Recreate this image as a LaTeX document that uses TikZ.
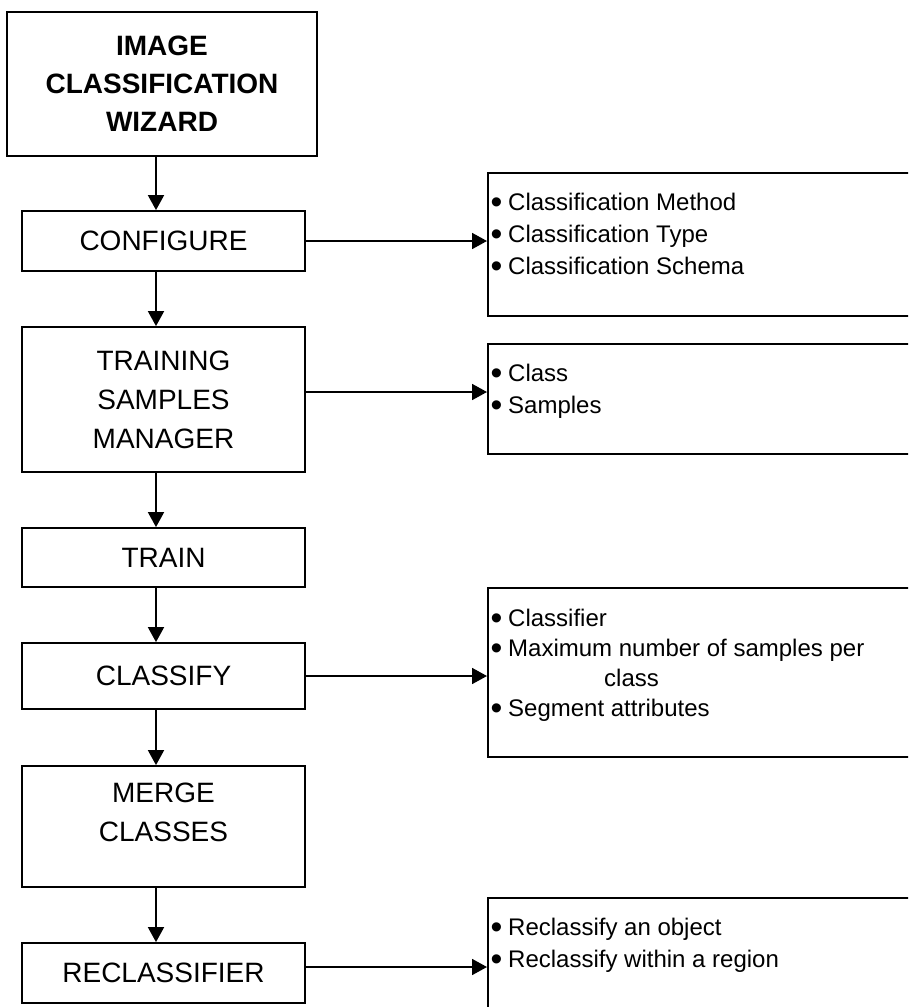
\documentclass[tikz,border=0pt]{standalone}
\usepackage{fontspec}
\setmainfont{Liberation Sans}
\usetikzlibrary{arrows.meta,calc}
% list bullet: a slightly enlarged dot followed by the item text
\newcommand{\itemdot}{\makebox[18pt][l]{\hspace{0.5pt}\raisebox{-3pt}{\scalebox{1.4}{•}}}}
\begin{document}
\begin{tikzpicture}[x=1pt,y=-1pt,
  stage/.style={draw, line width=1.8pt, minimum width=283pt, inner sep=0pt,
    align=center, font=\fontsize{28}{39}\selectfont},
  wizardbox/.style={stage, minimum width=310pt, minimum height=144pt,
    font=\fontsize{28}{38}\selectfont\bfseries},
  stagetext/.style={inner sep=0pt, align=center, font=\fontsize{28}{39}\selectfont},
  infobox/.style={draw, line width=1.8pt, anchor=north west, minimum width=440pt, inner sep=0pt},
  infotext/.style={anchor=base west, inner sep=0pt, font=\fontsize{24}{32}\selectfont},
  flow/.style={line width=1.8pt, -{Triangle[length=15pt,width=16pt]}},
]
\useasboundingbox (0,0) rectangle (908,1007);
\clip (0,0) rectangle (908,1007);

% main workflow stages
\node[wizardbox] (wizard) at (162,84) {IMAGE\\CLASSIFICATION\\WIZARD};
\node[stage, minimum height=60pt] (configure) at (163.5,241) {CONFIGURE};
\node[stage, minimum height=145pt] (training) at (163.5,399.5) {TRAINING\\SAMPLES\\MANAGER};
\node[stage, minimum height=59pt] (train) at (163.5,557.5) {TRAIN};
\node[stage, minimum height=66pt] (classify) at (163.5,676) {CLASSIFY};
\node[stage, minimum height=121pt] (merge) at (163.5,826.5) {};
\node[stagetext] (mergetext) at (163.5,812.5) {MERGE\\CLASSES};
\node[stage, minimum height=60pt] (reclass) at (163.5,973) {RECLASSIFIER};

% option panels (open to the right and bottom)
\node[infobox, minimum height=143pt] (info1) at (487,172) {};
\node[infobox, minimum height=110pt] (info2) at (487,343) {};
\node[infobox, minimum height=169pt] (info3) at (487,587) {};
\node[infobox, minimum height=140pt] (info4) at (487,897) {};

\node[infotext] (list1) at (490,210.6) {\parbox[t]{400pt}{\raggedright
  \itemdot Classification Method\\
  \itemdot Classification Type\\
  \itemdot Classification Schema}};
\node[infotext] (list2) at (490,381.6) {\parbox[t]{400pt}{\raggedright
  \itemdot Class\\
  \itemdot Samples}};
\node[infotext, font=\fontsize{24}{30}\selectfont] (list3) at (490,626.6) {\parbox[t]{400pt}{\raggedright
  \itemdot Classifier\\
  \itemdot Maximum number of samples per\\
  \hspace*{114pt}class\\
  \itemdot Segment attributes}};
\node[infotext] (list4) at (490,935.6) {\parbox[t]{400pt}{\raggedright
  \itemdot Reclassify an object\\
  \itemdot Reclassify within a region}};

% vertical flow
\coordinate (spine) at (156,0);
\draw[flow] (wizard.south -| spine) -- (configure.north -| spine);
\draw[flow] (configure.south -| spine) -- (training.north -| spine);
\draw[flow] (training.south -| spine) -- (train.north -| spine);
\draw[flow] (train.south -| spine) -- (classify.north -| spine);
\draw[flow] (classify.south -| spine) -- (merge.north -| spine);
\draw[flow] (merge.south -| spine) -- (reclass.north -| spine);

% links to option panels
\draw[flow] (configure.east) -- (configure.east -| info1.west);
\draw[flow] ([yshift=7.5pt]training.east) -- ([yshift=7.5pt]training.east -| info2.west);
\draw[flow] (classify.east) -- (classify.east -| info3.west);
\draw[flow] ([yshift=6pt]reclass.east) -- ([yshift=6pt]reclass.east -| info4.west);
\end{tikzpicture}
\end{document}
